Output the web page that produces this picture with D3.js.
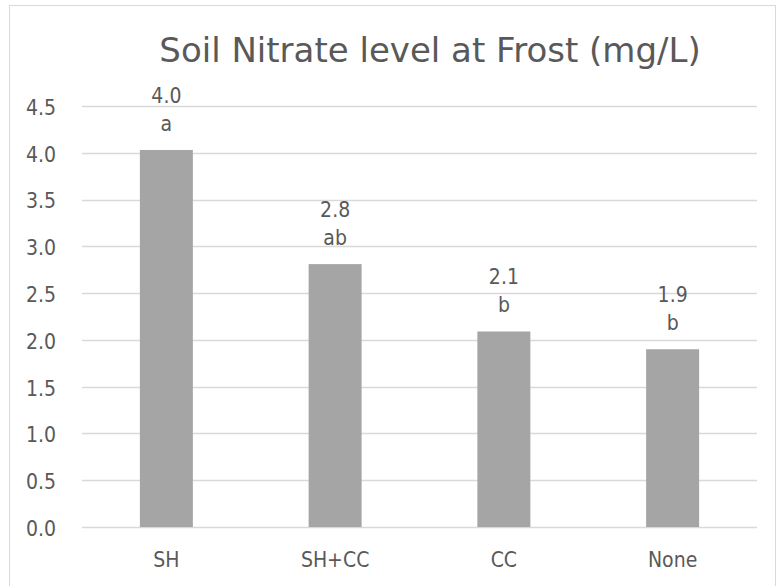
<!DOCTYPE html>
<html>
<head>
<meta charset="utf-8">
<script src="https://cdn.jsdelivr.net/npm/d3@7"></script>
<style>
  body { margin: 0; background: #fff; }
  text { font-family: "DejaVu Sans Condensed", "DejaVu Sans", sans-serif; fill: #595959; }
</style>
</head>
<body>
<div id="chart"></div>
<script>
// values
var categories = ["SH", "SH+CC", "CC", "None"];
var values = [4.03, 2.81, 2.09, 1.90];
var valueLabels = ["4.0", "2.8", "2.1", "1.9"];
var letters = ["a", "ab", "b", "b"];
var yTicks = [0, 0.5, 1.0, 1.5, 2.0, 2.5, 3.0, 3.5, 4.0, 4.5];

var svg_width = 780,
    svg_height = 586,
    margin = {top: 106, right: 23, bottom: 59, left: 82},
    width = svg_width - margin.left - margin.right,
    height = svg_height - margin.top - margin.bottom;

var svg = d3.select("#chart").append("svg")
    .attr("width", svg_width)
    .attr("height", svg_height);

// chart frame
svg.append("rect")
    .attr("x", 9.5)
    .attr("y", 5.5)
    .attr("width", 766)
    .attr("height", 600)
    .attr("fill", "none")
    .attr("stroke", "#d9d9d9");

svg.append("text")
    .attr("x", 430)
    .attr("y", 62)
    .attr("text-anchor", "middle")
    .style("font-family", "'DejaVu Sans', sans-serif")
    .style("font-size", "34px")
    .text("Soil Nitrate level at Frost (mg/L)");

var g = svg.append("g")
    .attr("transform", "translate(" + margin.left + "," + margin.top + ")");

var x = d3.scaleBand()
    .domain(categories)
    .range([0, width])
    .paddingInner(0.686)
    .paddingOuter(0.343);

var y = d3.scaleLinear()
    .domain([0, 4.5])
    .range([height, 0]);

// gridlines
g.append("g")
    .selectAll("line")
    .data(yTicks)
    .enter().append("line")
    .attr("x1", 0)
    .attr("x2", width)
    .attr("y1", function(d) { return Math.round(y(d)) + 0.5; })
    .attr("y2", function(d) { return Math.round(y(d)) + 0.5; })
    .attr("stroke", "#d9d9d9")
    .attr("stroke-width", 1.5);

// y axis labels
var yAxis = g.append("g")
    .attr("transform", "translate(-23,0)")
    .call(d3.axisLeft(y).tickValues(yTicks).tickFormat(d3.format(".1f")).tickSize(0));
yAxis.select(".domain").remove();
yAxis.selectAll("text").style("font-size", "21px").attr("dy", "0.4em").attr("fill", "#595959");

// x axis labels
var xAxis = g.append("g")
    .attr("transform", "translate(0," + height + ")")
    .call(d3.axisBottom(x).tickSize(0).tickPadding(25));
xAxis.select(".domain").remove();
xAxis.selectAll("text").style("font-size", "21px").attr("fill", "#595959");

// bars
g.selectAll(".bar")
    .data(values)
    .enter().append("rect")
    .attr("class", "bar")
    .attr("x", function(d, i) { return x(categories[i]); })
    .attr("y", function(d) { return y(d); })
    .attr("width", x.bandwidth())
    .attr("height", function(d) { return height - y(d); })
    .attr("fill", "#a5a5a5");

// data labels: value then significance letter
var lab = g.selectAll(".lab")
    .data(values)
    .enter().append("g")
    .attr("class", "lab")
    .attr("transform", function(d, i) {
        return "translate(" + (x(categories[i]) + x.bandwidth() / 2) + "," + y(d) + ")";
    });

lab.append("text")
    .attr("text-anchor", "middle")
    .attr("y", -47)
    .style("font-size", "21px")
    .text(function(d, i) { return valueLabels[i]; });

lab.append("text")
    .attr("text-anchor", "middle")
    .attr("y", -19)
    .style("font-size", "21px")
    .text(function(d, i) { return letters[i]; });
</script>
</body>
</html>
